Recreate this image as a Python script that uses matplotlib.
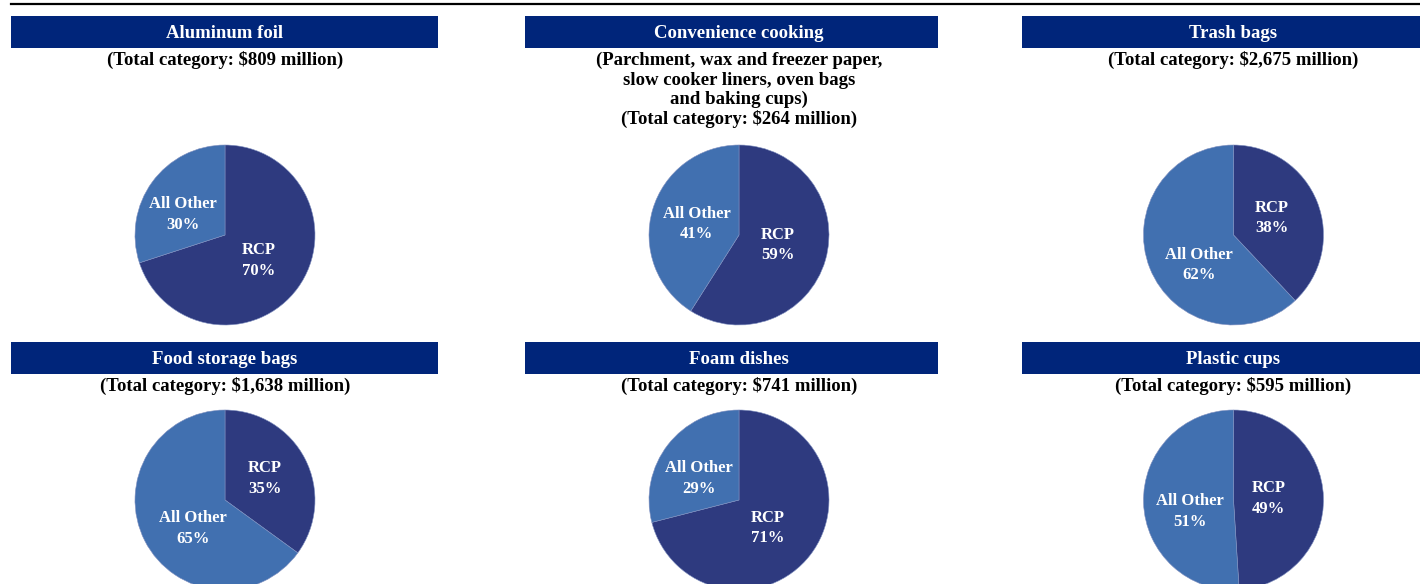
import matplotlib
matplotlib.use("Agg")
import matplotlib.pyplot as plt
from matplotlib.patches import Rectangle
from matplotlib.lines import Line2D
import numpy as np

# ---- data ----
titles = ["Aluminum foil", "Convenience cooking", "Trash bags",
          "Food storage bags", "Foam dishes", "Plastic cups"]
subtitles = ["(Total category: $809 million)",
             "(Parchment, wax and freezer paper,\nslow cooker liners, oven bags\nand baking cups)\n(Total category: $264 million)",
             "(Total category: $2,675 million)",
             "(Total category: $1,638 million)",
             "(Total category: $741 million)",
             "(Total category: $595 million)"]
segment_names = ["RCP", "All Other"]
rcp_share = [70, 59, 38, 35, 71, 49]
other_share = [30, 41, 62, 65, 29, 51]

# ---- layout / style ----
W, H = 1420, 584
DPI = 100
NAVY = "#00257A"
RCP_C = "#2E3A7F"
OTHER_C = "#4170B0"
FONT = "Liberation Serif"
# small label nudges in pixels (dx right, dy down) per pie: [RCP, All Other]
label_nudge = [[(-1.5, 0), (-7, 5)],
               [(-3, -2), (-1, 1)],
               [(-1.5, -1), (6, 14)],
               [(1.5, -2), (6.5, 9)],
               [(-5, 1.5), (-6, 5)],
               [(-8, 0), (0, 10)]]

fig = plt.figure(figsize=(W / DPI, H / DPI), dpi=DPI)

def fx(x):
    return x / W

def fy(y):
    return 1 - y / H

# top rule
fig.add_artist(Line2D([fx(11), fx(1420)], [fy(4), fy(4)], color="black", lw=1.6))

boxes = [(11, 438), (525, 938), (1022, 1420)]
centers_x = [225, 739, 1233.5]
row_box_top = [16, 342]
row_pie_cy = [235, 500]
R = 90

for i in range(6):
    row, col = divmod(i, 3)
    bx0, bx1 = boxes[col]
    top = row_box_top[row]
    fig.add_artist(Rectangle((fx(bx0), fy(top + 32)), fx(bx1 - bx0), 32 / H,
                             transform=fig.transFigure, color=NAVY, lw=0))
    cx = centers_x[col]
    fig.text(fx(cx), fy(top + 22), titles[i], color="white", ha="center", va="baseline",
             fontsize=13.5, fontweight="bold", family=FONT)
    for k, line in enumerate(subtitles[i].split("\n")):
        fig.text(fx(cx), fy(top + 49 + k * 19.7), line, color="black", ha="center",
                 va="baseline", fontsize=13.5, fontweight="bold", family=FONT)

    cy = row_pie_cy[row]
    ax = fig.add_axes([fx(cx - R), fy(cy + R), 2 * R / W, 2 * R / H])
    vals = [rcp_share[i], other_share[i]]
    wedges, _ = ax.pie(vals, colors=[RCP_C, OTHER_C], startangle=90, counterclock=False,
                       radius=1, wedgeprops=dict(lw=0.4, edgecolor="#8090c0"))
    ax.set_xlim(-1, 1)
    ax.set_ylim(-1, 1)
    ax.set_aspect("auto")
    ax.axis("off")
    for w, name, v, (ndx, ndy) in zip(wedges, segment_names, vals, label_nudge[i]):
        mid = np.deg2rad((w.theta1 + w.theta2) / 2)
        d = 0.48
        ax.text(d * np.cos(mid) + ndx / R, d * np.sin(mid) - ndy / R, f"{name}\n{v}%",
                color="white", ha="center", va="center", fontsize=12, fontweight="bold",
                family=FONT, linespacing=1.4)

fig.savefig("out.png", dpi=DPI)
